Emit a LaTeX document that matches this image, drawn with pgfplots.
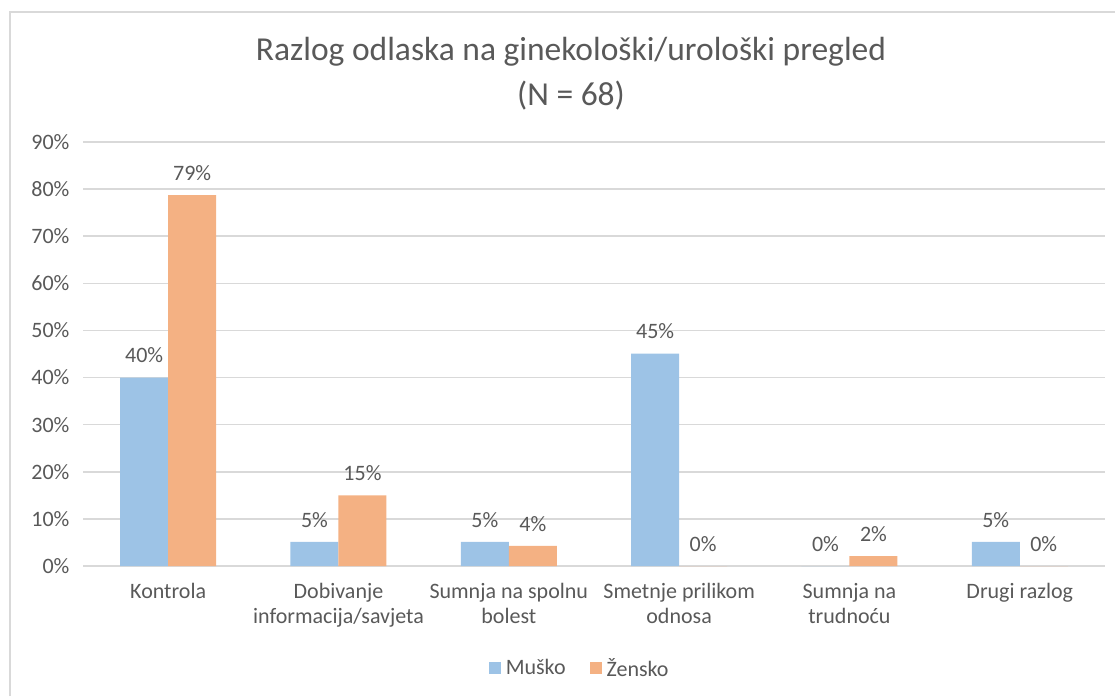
\documentclass[border=0pt]{standalone}
\usepackage{fontspec}
\setmainfont{Carlito}
\usepackage{pgfplots}
\pgfplotsset{compat=1.18}
\definecolor{mblue}{HTML}{9DC3E6}
\definecolor{forange}{HTML}{F4B183}
\definecolor{txt}{HTML}{595959}
\definecolor{gridc}{HTML}{D9D9D9}
\begin{document}
\begin{tikzpicture}[x=1pt,y=1pt]
\path[use as bounding box] (0,0) rectangle (1115,-696);
\draw[gridc, line width=1.5pt] (10,-696) -- (10,-12) -- (1115,-12);
\node[txt, font=\fontsize{33.5}{45}\selectfont, align=center] at (571,-74) {Razlog odlaska na ginekološki/urološki pregled\\(N = 68)};
\begin{axis}[
  at={(83pt,-566pt)}, anchor=south west,
  scale only axis, width=1022pt, height=424pt,
  xmin=-0.5, xmax=5.5, ymin=0, ymax=90,
  ybar=0pt, bar width=48pt,
  axis line style={draw=none},
  major tick length=0pt,
  ymajorgrids, xmajorgrids=false, major grid style={color=gridc, line width=1.5pt},
  ytick={0,10,...,90},
  yticklabels={0\%,10\%,20\%,30\%,40\%,50\%,60\%,70\%,80\%,90\%},
  xtick={0,1,2,3,4,5},
  xticklabels={Kontrola,{Dobivanje\\informacija/savjeta},{Sumnja na spolnu\\bolest},{Smetnje prilikom\\odnosa},{Sumnja na\\trudnoću},Drugi razlog},
  xticklabel style={align=center, font=\fontsize{22}{25}\selectfont, text=txt, yshift=-14pt},
  yticklabel style={font=\fontsize{22}{25}\selectfont, text=txt, xshift=-10pt},
  nodes near coords={\pgfmathprintnumber[fixed,precision=0]{\pgfplotspointmeta}\%},
  nodes near coords style={font=\fontsize{22}{25}\selectfont, text=txt, /pgf/number format/assume math mode=true, yshift=11pt},
  legend columns=2,
  legend style={draw=none, at={(0.486,-0.2406)}, anchor=center, font=\fontsize{22}{25}\selectfont, text=txt,
    /tikz/every odd column/.append style={column sep=3pt},
    /tikz/every even column/.append style={column sep=22pt}},
  legend image code/.code={\fill[#1] (0pt,-6pt) rectangle (12pt,6pt);},
]
\addplot[fill=mblue, draw=none] coordinates {(0,40) (1,5.1) (2,5.1) (3,45.1) (4,0) (5,5.1)};
\addplot[fill=forange, draw=none] coordinates {(0,78.7) (1,15) (2,4.3) (3,0) (4,2.1) (5,0)};
\legend{Muško,Žensko}
\end{axis}
\end{tikzpicture}
\end{document}
